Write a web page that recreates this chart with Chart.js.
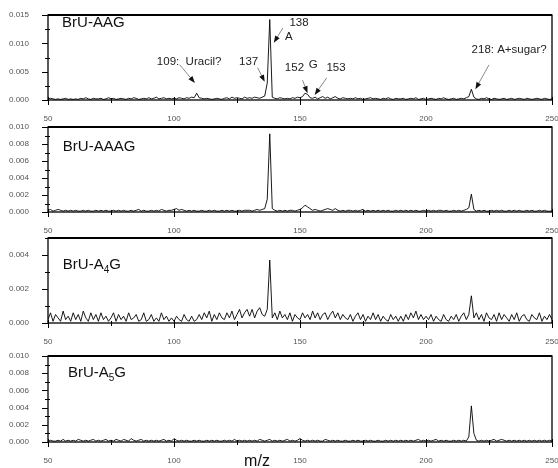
<!DOCTYPE html>
<html>
<head>
<meta charset="utf-8">
<script src="https://cdn.jsdelivr.net/npm/chart.js@4/dist/chart.umd.min.js"></script>
<style>
  html, body { margin: 0; padding: 0; background: #fff; width: 558px; height: 468px; overflow: hidden; position: relative; }
  canvas { position: absolute; left: 0; }
</style>
</head>
<body>
<canvas id="p1"></canvas>
<canvas id="p2"></canvas>
<canvas id="p3"></canvas>
<canvas id="p4"></canvas>
<script>
// m/z axis: every spectrum starts at 50 and goes up in steps of 1 to 250
const mzStart = 50;
const xTicksMajor = [50, 100, 150, 200, 250];
// intensities in units of 1e-4
const unit = 1e-4;

const aag = [
  2,3,2,1,2,1,2,3,1,2,  1,2,1,3,2,4,2,1,3,2,  2,3,1,2,4,2,3,1,2,3,  2,1,3,2,4,3,1,2,3,2,
  4,2,3,5,2,3,4,2,3,2,  3,2,4,3,2,4,3,5,4,12, 4,3,2,3,2,1,2,3,2,1,  3,4,2,5,3,4,3,2,5,3,
  4,3,5,4,3,5,7,30,142,5, 3,2,4,3,2,3,2,4,3,5, 4,6,12,10,4,3,5,2,4,6, 3,5,2,4,6,3,2,4,3,2,
  3,2,4,2,3,1,2,3,4,2,  3,2,1,3,2,4,2,1,3,2,  2,3,1,2,3,2,4,1,2,3,  1,2,3,2,1,3,2,4,2,1,
  2,3,1,2,3,2,4,6,19,5, 2,1,3,2,4,2,1,3,2,1,  2,3,1,2,3,1,2,3,2,1,  3,2,1,2,3,2,1,3,2,1,
  2
];
const aaag = [
  2,3,1,2,3,2,1,2,1,2,  1,2,1,1,2,1,2,1,1,2,  1,2,1,2,1,1,2,1,2,1,  2,1,1,2,1,2,3,1,2,1,
  1,2,1,2,1,3,2,1,2,2,  3,4,2,3,2,1,2,1,2,1,  1,2,1,1,2,1,2,1,1,2,  1,2,1,2,1,1,2,1,2,2,
  2,1,2,3,2,3,4,15,92,4, 2,1,2,1,2,1,2,2,1,2, 3,5,8,6,4,2,3,2,1,2,  3,4,3,2,4,2,1,2,1,2,
  2,1,2,1,2,3,1,2,1,2,  1,2,1,2,1,2,1,1,2,1,  2,1,2,1,2,1,2,1,1,2,  1,2,1,2,1,2,2,1,2,1,
  1,2,1,2,1,2,3,5,21,3, 1,2,1,2,1,1,2,1,2,1,  2,1,1,2,1,2,1,2,1,1,  2,1,2,1,1,2,1,2,1,1,
  1
];
const a4g = [
  2,6,1,5,3,1,7,2,4,1,  6,2,5,1,7,3,1,6,2,5,  1,6,2,4,1,3,6,1,5,2,  4,1,6,2,3,5,1,2,6,1,
  2,5,1,3,1,6,2,4,1,3,  1,4,2,1,5,2,1,4,1,2,  5,2,6,3,7,1,5,2,6,3,  2,6,3,7,2,5,8,3,6,8,
  4,8,3,7,9,5,4,8,37,3, 6,2,7,3,5,2,6,1,5,3,  2,6,3,5,2,7,3,6,2,5,  6,2,5,7,3,6,2,5,3,2,
  5,1,4,6,2,5,1,4,2,6,  2,5,1,4,2,1,5,2,4,1,  4,1,5,2,6,3,7,2,5,2,  4,2,5,1,4,2,1,5,2,1,
  4,2,5,1,4,6,2,5,16,3, 6,2,5,1,6,3,2,5,1,6,  2,5,3,1,5,2,6,1,4,5,  2,1,5,3,2,6,1,4,2,5,
  2
];
const a5g = [
  1,2,1,1,2,1,3,1,2,1,  2,1,3,2,1,2,1,2,3,1,  2,1,2,3,1,2,1,3,2,1,  3,2,1,4,2,1,2,3,1,2,
  1,2,1,2,1,2,3,1,2,1,  4,2,1,2,1,2,1,1,2,1,  2,1,1,2,1,2,1,2,1,1,  2,1,2,1,3,1,2,1,2,1,
  2,1,2,1,3,2,1,2,3,1,  2,1,2,1,2,3,1,2,1,2,  4,2,1,2,1,2,1,2,1,1,  3,2,1,2,1,2,1,1,2,1,
  1,2,1,2,1,1,2,1,2,1,  1,2,1,1,2,1,2,1,2,1,  2,1,2,1,2,1,2,3,1,2,  1,2,1,2,3,1,2,1,2,1,
  1,2,1,2,1,2,1,6,42,10, 2,1,2,1,2,1,2,3,1,2, 3,2,1,2,1,2,1,2,1,2,  1,2,1,2,1,2,1,2,1,2,
  1
];

// peak labels and arrows of the top spectrum, in data coordinates (m/z, intensity)
const notes = [
  { text: '109:  Uracil?', x: 106.0, y: 0.0067 },
  { text: '137', x: 129.6, y: 0.0067 },
  { text: '138', x: 149.6, y: 0.0136 },
  { text: 'A', x: 145.6, y: 0.0111 },
  { text: '152', x: 147.8, y: 0.0056 },
  { text: 'G', x: 155.2, y: 0.0062 },
  { text: '153', x: 164.3, y: 0.0056 },
  { text: '218: A+sugar?', x: 233.0, y: 0.0088 }
];
const arrows = [
  { from: [102.3, 0.0062], to: [108.3, 0.0030] },
  { from: [133.2, 0.0057], to: [136.0, 0.0032] },
  { from: [143.2, 0.0127], to: [139.6, 0.0101] },
  { from: [151.0, 0.0035], to: [153.0, 0.0012] },
  { from: [160.6, 0.0039], to: [155.8, 0.0009] },
  { from: [225.0, 0.0062], to: [219.6, 0.0019] }
];

const panels = [
  { id: 'p1', top: 15,  h: 85, max: 0.015, major: 0.005, minor: 0.0025, data: aag,  title: ['BrU-AAG'],       tx: 55.6, ty: 0.0137, notes, arrows },
  { id: 'p2', top: 127, h: 85, max: 0.010, major: 0.002, minor: 0.001,  data: aaag, title: ['BrU-AAAG'],      tx: 55.9, ty: 0.0077 },
  { id: 'p3', top: 238, h: 85, max: 0.005, major: 0.002, minor: 0.001,  data: a4g,  title: ['BrU-A', '4', 'G'], tx: 55.9, ty: 0.0034 },
  { id: 'p4', top: 356, h: 86, max: 0.010, major: 0.002, minor: 0.001,  data: a5g,  title: ['BrU-A', '5', 'G'], tx: 57.9, ty: 0.0080, xTitle: 'm/z' }
];

const FONT = "'Liberation Sans', Arial, sans-serif";
const PAD_TOP = 6;
Chart.defaults.font.family = FONT;

function isMajor(v, step) {
  const r = v / step;
  return Math.abs(r - Math.round(r)) < 1e-6;
}

const framePlugin = {
  id: 'frame',
  afterDraw(chart, args, o) {
    const { ctx, chartArea: a, scales: { x, y } } = chart;
    ctx.save();
    ctx.strokeStyle = '#000';
    ctx.lineWidth = 1;
    ctx.beginPath();
    y.ticks.forEach(t => {
      const py = Math.round(y.getPixelForValue(t.value)) + 0.5;
      const len = isMajor(t.value, o.major) ? 6 : 3;
      ctx.moveTo(a.left - len, py);
      ctx.lineTo(a.left + (len > 3 ? 0 : 2), py);
    });
    x.ticks.forEach(t => {
      const px = Math.round(x.getPixelForValue(t.value)) + 0.5;
      const big = xTicksMajor.includes(t.value);
      ctx.moveTo(px, a.bottom - (big ? 3 : 2));
      ctx.lineTo(px, a.bottom + (big ? 5 : 3));
    });
    ctx.stroke();

    // box round the plot
    ctx.lineWidth = 1.3;
    ctx.strokeRect(a.left, a.top, a.right - a.left, a.bottom - a.top);
    ctx.lineWidth = 2;
    ctx.beginPath();
    ctx.moveTo(a.left, a.top);
    ctx.lineTo(a.right, a.top);
    ctx.stroke();

    // spectrum name, second part as subscript
    ctx.fillStyle = '#111';
    ctx.textBaseline = 'middle';
    ctx.textAlign = 'left';
    let tx = x.getPixelForValue(o.tx);
    const ty = y.getPixelForValue(o.ty);
    o.title.forEach((part, i) => {
      const sub = i === 1;
      ctx.font = (sub ? '10px ' : '15px ') + FONT;
      ctx.fillText(part, tx, sub ? ty + 5 : ty);
      tx += ctx.measureText(part).width;
    });

    // arrows
    (o.arrows || []).forEach(ar => {
      const x0 = x.getPixelForValue(ar.from[0]), y0 = y.getPixelForValue(ar.from[1]);
      const x1 = x.getPixelForValue(ar.to[0]), y1 = y.getPixelForValue(ar.to[1]);
      const ang = Math.atan2(y1 - y0, x1 - x0);
      ctx.strokeStyle = '#8a8a8a';
      ctx.lineWidth = 1;
      ctx.beginPath();
      ctx.moveTo(x0, y0);
      ctx.lineTo(x1 - 5 * Math.cos(ang), y1 - 5 * Math.sin(ang));
      ctx.stroke();
      ctx.fillStyle = '#111';
      ctx.beginPath();
      ctx.moveTo(x1, y1);
      ctx.lineTo(x1 - 7 * Math.cos(ang) + 2.6 * Math.sin(ang), y1 - 7 * Math.sin(ang) - 2.6 * Math.cos(ang));
      ctx.lineTo(x1 - 7 * Math.cos(ang) - 2.6 * Math.sin(ang), y1 - 7 * Math.sin(ang) + 2.6 * Math.cos(ang));
      ctx.closePath();
      ctx.fill();
    });

    // peak labels
    ctx.fillStyle = '#222';
    ctx.font = '11.5px ' + FONT;
    ctx.textAlign = 'center';
    (o.notes || []).forEach(n => {
      ctx.fillText(n.text, x.getPixelForValue(n.x), y.getPixelForValue(n.y));
    });

    if (o.xTitle) {
      ctx.font = '16px ' + FONT;
      ctx.fillStyle = '#111';
      ctx.fillText(o.xTitle, 257, a.bottom + 20);
    }
    ctx.restore();
  }
};

panels.forEach(p => {
  const axH = p.xTitle ? 28 : 22;
  const canvas = document.getElementById(p.id);
  canvas.width = 558;
  canvas.height = PAD_TOP + p.h + axH;
  canvas.style.top = (p.top - PAD_TOP) + 'px';

  new Chart(canvas, {
    type: 'line',
    data: {
      datasets: [{
        data: p.data.map((v, i) => ({ x: mzStart + i, y: v * unit })),
        borderColor: '#000',
        borderWidth: 0.9,
        pointRadius: 0,
        tension: 0,
        fill: false
      }]
    },
    options: {
      responsive: false,
      animation: false,
      devicePixelRatio: 1,
      layout: { padding: { left: 0, right: 6, top: PAD_TOP, bottom: 0 } },
      plugins: {
        legend: { display: false },
        tooltip: { enabled: false },
        frame: p
      },
      scales: {
        x: {
          type: 'linear',
          min: 50,
          max: 250,
          grid: { display: false },
          border: { display: false },
          ticks: {
            stepSize: 25,
            autoSkip: false,
            maxRotation: 0,
            padding: 6,
            color: '#555',
            font: { size: 8 },
            callback: v => (xTicksMajor.includes(v) ? String(v) : '')
          },
          afterFit: s => { s.height = axH; s.paddingLeft = 0; s.paddingRight = 0; }
        },
        y: {
          min: 0,
          max: p.max,
          grid: { display: false },
          border: { display: false },
          ticks: {
            stepSize: p.minor,
            autoSkip: false,
            padding: 11,
            color: '#555',
            font: { size: 8 },
            callback: v => (isMajor(v, p.major) ? v.toFixed(3) : '')
          },
          afterFit: s => { s.width = 48; s.paddingTop = 0; s.paddingBottom = 0; }
        }
      }
    },
    plugins: [framePlugin]
  });
});
</script>
</body>
</html>
